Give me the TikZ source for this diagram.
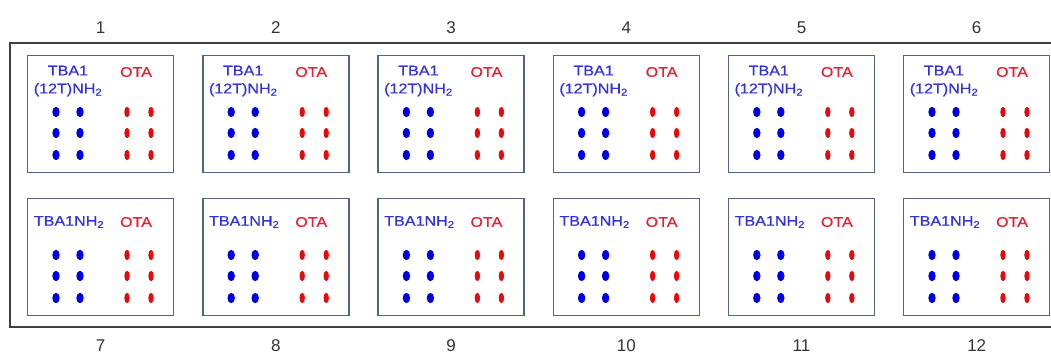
\documentclass[tikz,border=0pt]{standalone}
\usepackage{fontspec}
\setmainfont{Liberation Sans}
\newfontfamily\wellfont[FakeStretch=1.15,FakeBold=0.6]{Liberation Sans}
\usetikzlibrary{positioning}
\definecolor{tbablue}{RGB}{50,50,215}
\definecolor{otared}{RGB}{225,35,55}
\definecolor{dotblue}{RGB}{0,0,230}
\definecolor{dotred}{RGB}{230,10,10}
\definecolor{wellgray}{RGB}{85,100,125}

\begin{document}
\begin{tikzpicture}[x=1pt,y=-1pt,
    plate/.style={draw=black!75,line width=2.4pt},
    well/.style={draw=wellgray,line width=1.4pt,minimum width=146pt,minimum height=117pt,anchor=north west,inner sep=0pt},
    num/.style={font=\fontsize{17}{19}\selectfont,text=black!80,inner sep=0pt},
    tba/.style={text=tbablue,font=\wellfont\fontsize{14}{18}\selectfont,align=center,inner sep=0pt},
    ota/.style={text=otared,font=\wellfont\fontsize{14}{18}\selectfont,inner sep=0pt}]
\useasboundingbox (0,0) rectangle (1051,356);
\draw[plate] (10,43) rectangle (1070,327);
\foreach \i in {1,...,6}{
  \pgfmathsetmacro{\xx}{27+(\i-1)*175.2}
  \pgfmathtruncatemacro{\j}{\i+6}
  \node[well] (w\i) at (\xx,55) {};
  \node[well] (w\j) at (\xx,198) {};
  \node[num,above=21pt of w\i] (n\i) {\i};
  \node[num,below=23pt of w\j] (n\j) {\j};
  \node[tba] (t\i) at ([shift={(41,26)}]w\i.north west) {TBA1\\(12T)NH\textsubscript{2}};
  \node[ota] (o\i) at ([shift={(109,17)}]w\i.north west) {OTA};
  \node[tba] (t\j) at ([shift={(42,24)}]w\j.north west) {TBA1NH\textsubscript{2}};
  \node[ota] (o\j) at ([shift={(109,24)}]w\j.north west) {OTA};
  \foreach \k in {\i,\j}{
    \foreach \r in {57,78,100}{
      \fill[dotblue] ([shift={(29,\r)}]w\k.north west) ellipse[x radius=3.7,y radius=5.2];
      \fill[dotblue] ([shift={(53,\r)}]w\k.north west) ellipse[x radius=3.7,y radius=5.2];
      \fill[dotred] ([shift={(100,\r)}]w\k.north west) ellipse[x radius=2.7,y radius=5.2];
      \fill[dotred] ([shift={(124,\r)}]w\k.north west) ellipse[x radius=2.7,y radius=5.2];
    }
  }
}
\end{tikzpicture}
\end{document}
